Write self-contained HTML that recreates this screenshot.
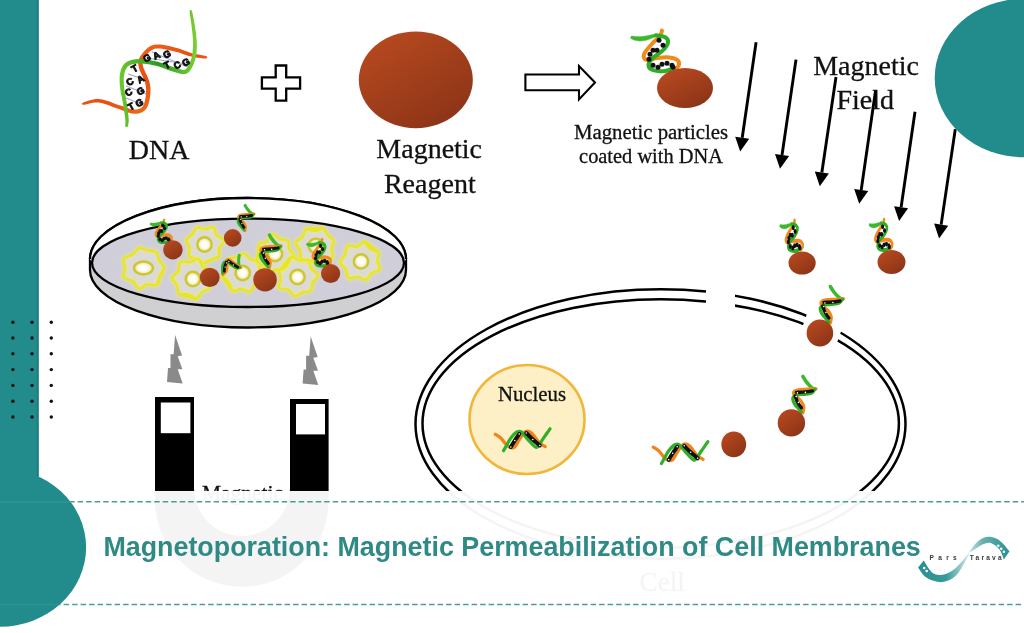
<!DOCTYPE html>
<html><head><meta charset="utf-8">
<style>
html,body{margin:0;padding:0;background:#fff;}
body{width:1024px;height:633px;overflow:hidden;position:relative;}
svg{display:block;position:absolute;left:0;top:0;will-change:transform;}
text{font-family:"Liberation Serif",serif;stroke:#111;stroke-width:0.3px;}
.sans{font-family:"Liberation Sans",sans-serif;}
</style></head><body>
<svg width="1024" height="633" viewBox="0 0 1024 633">
<defs>
<linearGradient id="ball" x1="0.2" y1="0.1" x2="0.8" y2="0.95"><stop offset="0" stop-color="#b4481f"/><stop offset="1" stop-color="#8c3417"/></linearGradient>
<radialGradient id="nuc" cx="0.5" cy="0.5" r="0.5">
<stop offset="0" stop-color="#ffffff"/><stop offset="0.45" stop-color="#fcfcf0"/><stop offset="1" stop-color="#e4e09a"/>
</radialGradient>
<linearGradient id="orgrad" x1="0" y1="0" x2="1" y2="1"><stop offset="0" stop-color="#f07a1a"/><stop offset="0.5" stop-color="#e84e12"/><stop offset="1" stop-color="#f08a1c"/></linearGradient>
<linearGradient id="grgrad" x1="0" y1="0" x2="1" y2="0"><stop offset="0" stop-color="#6cc82c"/><stop offset="0.5" stop-color="#2a9a24"/><stop offset="1" stop-color="#7cd030"/></linearGradient>
<linearGradient id="logoL" x1="918" y1="0" x2="970" y2="0" gradientUnits="userSpaceOnUse"><stop offset="0" stop-color="#279090"/><stop offset="0.55" stop-color="#3a9a9a"/><stop offset="1" stop-color="#d8ecec"/></linearGradient>
<linearGradient id="logoR" x1="968" y1="0" x2="1010" y2="0" gradientUnits="userSpaceOnUse"><stop offset="0" stop-color="#d0e8e8"/><stop offset="0.35" stop-color="#6ab0b0"/><stop offset="1" stop-color="#279090"/></linearGradient>
<filter id="glow" x="-30%" y="-30%" width="160%" height="160%"><feGaussianBlur stdDeviation="1.2"/></filter>
</defs>
<rect x="0" y="0" width="1024" height="633" fill="#fff"/>

<line x1="147" y1="58" x2="186" y2="64" stroke="#a0a8cc" stroke-width="1.1"/><line x1="152" y1="52" x2="190" y2="68" stroke="#a0a8cc" stroke-width="1.1"/><line x1="128" y1="74" x2="146" y2="80" stroke="#a0a8cc" stroke-width="1.1"/><line x1="126" y1="86" x2="147" y2="94" stroke="#a0a8cc" stroke-width="1.1"/><line x1="126" y1="98" x2="146" y2="106" stroke="#a0a8cc" stroke-width="1.1"/><polygon points="82.4,104.7 84.3,104.8 86.8,104.2 89.6,103.4 92.7,102.8 95.8,102.4 98.7,102.4 101.6,102.9 104.8,103.9 108.2,105.1 111.6,106.4 115.0,107.7 118.1,108.8 120.9,109.8 123.7,110.9 126.4,111.9 129.0,112.8 131.6,113.5 134.1,113.8 136.5,113.7 138.7,113.4 140.9,112.7 142.9,111.8 144.7,110.5 146.3,108.8 147.6,106.6 148.5,104.1 149.2,101.3 149.8,98.6 150.1,95.9 150.4,93.5 150.5,91.3 150.5,89.2 150.4,87.2 150.1,85.2 149.7,83.1 149.1,80.9 148.2,78.4 147.1,75.8 145.8,73.2 144.7,70.7 143.7,68.4 143.1,66.5 142.8,64.8 142.6,63.3 142.5,62.1 142.7,61.1 143.1,60.0 143.8,58.6 145.0,56.9 146.5,54.9 148.3,52.9 150.3,51.1 152.5,49.7 154.6,48.8 157.1,48.4 160.1,48.5 163.5,49.0 167.0,49.7 170.5,50.4 173.7,51.2 176.8,51.9 179.8,52.8 182.8,53.9 185.7,54.9 188.7,55.9 191.6,56.6 194.5,57.2 197.6,57.7 200.5,58.1 203.2,58.4 205.4,58.5 207.1,58.2 207.3,56.8 205.8,56.0 203.5,55.6 200.9,55.1 198.1,54.6 195.2,54.0 192.4,53.4 189.7,52.5 186.9,51.5 184.0,50.4 181.0,49.3 177.9,48.3 174.7,47.4 171.3,46.6 167.8,45.8 164.1,45.1 160.5,44.5 156.9,44.4 153.6,44.8 150.5,46.0 147.8,47.8 145.4,49.9 143.3,52.2 141.6,54.4 140.2,56.4 139.2,58.2 138.5,60.0 138.2,61.9 138.2,63.7 138.5,65.5 138.9,67.5 139.6,69.9 140.7,72.5 141.9,75.1 143.1,77.6 144.2,80.0 144.9,82.1 145.4,84.1 145.8,85.9 146.0,87.7 146.1,89.4 146.1,91.2 146.0,93.1 145.8,95.4 145.5,97.9 145.0,100.4 144.4,102.8 143.7,104.8 142.9,106.2 141.9,107.3 140.7,108.2 139.4,108.8 137.8,109.3 136.1,109.6 134.3,109.6 132.3,109.5 130.1,108.9 127.7,108.1 125.1,107.2 122.2,106.1 119.3,105.2 116.2,104.2 112.9,102.9 109.4,101.6 105.9,100.4 102.4,99.5 98.9,99.0 95.5,99.1 92.1,99.7 88.9,100.5 86.0,101.4 83.6,102.3 82.0,103.3" fill="url(#orgrad)" /><polygon points="189.9,10.1 189.7,12.2 190.0,14.9 190.5,18.2 191.0,21.7 191.5,25.1 191.8,28.2 192.2,31.1 192.5,34.0 192.8,36.9 193.0,39.7 193.1,42.4 193.1,45.0 193.0,47.6 192.8,50.1 192.6,52.6 192.2,55.0 191.7,57.2 191.1,59.4 190.3,61.5 189.3,63.7 188.3,65.8 187.2,67.6 186.1,68.9 185.0,69.6 184.1,69.9 182.9,69.9 181.3,69.6 179.4,69.0 177.2,68.2 174.8,67.5 172.3,66.7 169.5,65.7 166.5,64.6 163.3,63.5 160.2,62.4 157.0,61.6 153.9,60.9 150.7,60.3 147.5,59.8 144.4,59.4 141.4,59.1 138.7,59.1 136.1,59.3 133.7,59.6 131.4,60.0 129.2,60.7 127.3,61.6 125.5,62.8 123.9,64.2 122.7,65.9 121.8,67.7 121.0,69.6 120.5,71.6 120.0,73.6 119.7,75.7 119.6,78.0 119.6,80.3 119.7,82.7 119.8,85.1 120.1,87.6 120.4,90.3 120.9,93.1 121.5,95.9 122.1,98.8 122.6,101.6 123.1,104.3 123.6,107.0 124.0,109.8 124.4,112.6 124.8,115.2 125.1,117.6 125.3,119.6 125.4,121.3 125.4,122.8 125.3,124.0 125.3,125.1 125.2,126.1 125.7,126.9 127.1,127.1 127.8,126.5 128.0,125.6 128.3,124.4 128.5,123.0 128.7,121.3 128.7,119.4 128.5,117.2 128.3,114.8 128.0,112.1 127.6,109.3 127.3,106.5 126.9,103.7 126.4,100.9 125.9,98.1 125.4,95.2 124.8,92.4 124.4,89.7 124.1,87.2 123.9,84.8 123.8,82.4 123.7,80.2 123.7,78.1 123.9,76.2 124.2,74.4 124.6,72.6 125.1,71.0 125.7,69.5 126.4,68.2 127.2,67.1 128.1,66.2 129.3,65.5 130.8,64.8 132.5,64.3 134.4,63.9 136.5,63.6 138.7,63.5 141.2,63.5 144.0,63.7 146.9,64.1 150.0,64.6 153.0,65.2 156.0,65.8 158.9,66.6 161.9,67.6 165.0,68.7 168.0,69.9 170.9,70.9 173.6,71.7 175.9,72.4 178.1,73.1 180.2,73.7 182.4,74.1 184.7,74.1 187.0,73.4 188.9,71.9 190.6,70.0 191.9,67.8 193.1,65.4 194.1,63.0 194.9,60.6 195.6,58.2 196.1,55.7 196.5,53.1 196.7,50.4 196.8,47.7 196.9,45.0 196.8,42.2 196.6,39.4 196.3,36.5 196.0,33.6 195.6,30.7 195.2,27.8 194.7,24.6 194.1,21.2 193.4,17.7 192.8,14.5 192.2,11.8 191.3,9.9" fill="url(#grgrad)" /><text transform="translate(147,57.8) rotate(-25)" x="0" y="3.4" font-size="9.5" font-weight="bold" text-anchor="middle" fill="#111" style="font-family:'Liberation Sans',sans-serif;stroke:#111;stroke-width:0.9px">G</text><text transform="translate(156.5,55.4) rotate(-25)" x="0" y="3.4" font-size="9.5" font-weight="bold" text-anchor="middle" fill="#111" style="font-family:'Liberation Sans',sans-serif;stroke:#111;stroke-width:0.9px">A</text><text transform="translate(167,54.2) rotate(-25)" x="0" y="3.4" font-size="9.5" font-weight="bold" text-anchor="middle" fill="#111" style="font-family:'Liberation Sans',sans-serif;stroke:#111;stroke-width:0.9px">G</text><text transform="translate(167,64.9) rotate(-25)" x="0" y="3.4" font-size="9.5" font-weight="bold" text-anchor="middle" fill="#111" style="font-family:'Liberation Sans',sans-serif;stroke:#111;stroke-width:0.9px">T</text><text transform="translate(177.2,64.9) rotate(-25)" x="0" y="3.4" font-size="9.5" font-weight="bold" text-anchor="middle" fill="#111" style="font-family:'Liberation Sans',sans-serif;stroke:#111;stroke-width:0.9px">C</text><text transform="translate(186,62) rotate(-25)" x="0" y="3.4" font-size="9.5" font-weight="bold" text-anchor="middle" fill="#111" style="font-family:'Liberation Sans',sans-serif;stroke:#111;stroke-width:0.9px">G</text><text transform="translate(134.5,68.4) rotate(-30)" x="0" y="3.4" font-size="9.5" font-weight="bold" text-anchor="middle" fill="#111" style="font-family:'Liberation Sans',sans-serif;stroke:#111;stroke-width:0.9px">T</text><text transform="translate(140.5,79) rotate(-30)" x="0" y="3.4" font-size="9.5" font-weight="bold" text-anchor="middle" fill="#111" style="font-family:'Liberation Sans',sans-serif;stroke:#111;stroke-width:0.9px">A</text><text transform="translate(129.8,81.5) rotate(-30)" x="0" y="3.4" font-size="9.5" font-weight="bold" text-anchor="middle" fill="#111" style="font-family:'Liberation Sans',sans-serif;stroke:#111;stroke-width:0.9px">C</text><text transform="translate(140.5,91) rotate(-30)" x="0" y="3.4" font-size="9.5" font-weight="bold" text-anchor="middle" fill="#111" style="font-family:'Liberation Sans',sans-serif;stroke:#111;stroke-width:0.9px">G</text><text transform="translate(128.6,92.1) rotate(-30)" x="0" y="3.4" font-size="9.5" font-weight="bold" text-anchor="middle" fill="#111" style="font-family:'Liberation Sans',sans-serif;stroke:#111;stroke-width:0.9px">C</text><text transform="translate(139.3,102.8) rotate(-30)" x="0" y="3.4" font-size="9.5" font-weight="bold" text-anchor="middle" fill="#111" style="font-family:'Liberation Sans',sans-serif;stroke:#111;stroke-width:0.9px">G</text><text transform="translate(131,106.4) rotate(-30)" x="0" y="3.4" font-size="9.5" font-weight="bold" text-anchor="middle" fill="#111" style="font-family:'Liberation Sans',sans-serif;stroke:#111;stroke-width:0.9px">T</text>
<path d="M275.7,65.5 H286.2 V77.4 H300.1 V88.7 H286.2 V100.7 H275.7 V88.7 H261.9 V77.4 H275.7 Z" fill="#fff" stroke="#000" stroke-width="2.3"/>
<ellipse cx="415.8" cy="79.8" rx="57" ry="48.4" fill="url(#ball)"/>
<text x="159.1" y="159.4" font-size="28" text-anchor="middle" fill="#111">DNA</text>
<text x="429.2" y="158.1" font-size="28" text-anchor="middle" fill="#111">Magnetic</text>
<text x="429.8" y="192.7" font-size="28" text-anchor="middle" fill="#111">Reagent</text>
<text x="651" y="138.8" font-size="20.8" text-anchor="middle" fill="#111">Magnetic particles</text>
<text x="651" y="162.8" font-size="20.4" text-anchor="middle" fill="#111">coated with DNA</text>
<text x="866" y="74.9" font-size="28" text-anchor="middle" fill="#111">Magnetic</text>
<text x="865.3" y="108.9" font-size="28" text-anchor="middle" fill="#111">Field</text>
<path d="M525.4,74.5 H579 V66 L595,82.4 L579,99.4 V90.2 H525.4 Z" fill="#fff" stroke="#000" stroke-width="2.1" stroke-linejoin="miter"/>
<g transform="translate(685,87.2) rotate(0) scale(1.0,1.0)"><polygon points="-54.3,-48.8 -50.3,-47.0 -45.0,-46.1 -39.6,-46.7 -34.5,-48.5 -28.7,-50.8 -29.5,-53.2 -35.5,-51.9 -40.4,-50.9 -45.0,-50.5 -49.7,-50.6 -53.7,-51.2" fill="#3cb82c" stroke="#3cb82c" stroke-width="0.5" stroke-linejoin="round"/><path d="M-23.0,-56.6 C-23.3,-55.7 -23.3,-53.5 -25.0,-51.3 C-26.7,-49.1 -30.6,-45.9 -33.1,-43.2 C-35.6,-40.5 -38.4,-37.3 -39.8,-35.1 C-41.1,-32.9 -41.6,-31.1 -41.2,-29.8 C-40.8,-28.5 -39.4,-27.2 -37.2,-27.1 C-35.0,-27.0 -31.4,-28.7 -27.8,-29.1 C-24.2,-29.6 -19.1,-30.1 -15.7,-29.8 C-12.3,-29.5 -9.2,-28.5 -7.6,-27.1 C-6.0,-25.8 -5.8,-23.3 -6.3,-21.7 C-6.8,-20.1 -9.6,-18.4 -10.3,-17.7" stroke="#f08a1a" stroke-width="4.00" fill="none" stroke-linecap="round"/><path d="M-29.1,-51.9 C-27.5,-51.6 -21.7,-51.1 -19.7,-49.9 C-17.7,-48.7 -16.6,-46.7 -17.0,-44.5 C-17.4,-42.3 -19.7,-39.2 -22.4,-36.5 C-25.1,-33.8 -30.8,-30.9 -33.1,-28.4 C-35.5,-25.9 -36.7,-23.6 -36.5,-21.7 C-36.3,-19.8 -34.6,-17.9 -31.8,-17.0 C-29.0,-16.1 -23.1,-16.0 -19.7,-16.3 C-16.3,-16.6 -12.9,-18.6 -11.6,-19.0" stroke="#2eae26" stroke-width="4.00" fill="none" stroke-linecap="round"/><circle cx="-26" cy="-47" r="2.50" fill="#111"/><circle cx="-22" cy="-42" r="2.50" fill="#111"/><circle cx="-28" cy="-37" r="2.50" fill="#111"/><circle cx="-32" cy="-37" r="2.50" fill="#111"/><circle cx="-35" cy="-33" r="2.50" fill="#111"/><circle cx="-36" cy="-28" r="2.50" fill="#111"/><circle cx="-32" cy="-22" r="2.50" fill="#111"/><circle cx="-27" cy="-20" r="2.50" fill="#111"/><circle cx="-23" cy="-23" r="2.50" fill="#111"/><circle cx="-18" cy="-24" r="2.50" fill="#111"/><circle cx="-13" cy="-22" r="2.50" fill="#111"/><circle cx="-12" cy="-20" r="2.50" fill="#111"/></g>
<ellipse cx="685" cy="88" rx="28" ry="20" fill="url(#ball)"/>
<line x1="756.1" y1="42.2" x2="742.213579436398" y2="137.7455603558529" stroke="#000" stroke-width="2.9"/><polygon points="740.2,151.6 735.2,136.7 749.2,138.8" fill="#000"/><line x1="796" y1="59.6" x2="782.0296117311876" y2="154.94789993464437" stroke="#000" stroke-width="2.9"/><polygon points="780,168.8 775.0,153.9 789.1,156.0" fill="#000"/><line x1="836" y1="77" x2="821.8525996398417" y2="172.45128761514192" stroke="#000" stroke-width="2.9"/><polygon points="819.8,186.3 814.8,171.4 828.9,173.5" fill="#000"/><line x1="875.5" y1="91" x2="861.2022528542904" y2="189.94391889791757" stroke="#000" stroke-width="2.9"/><polygon points="859.2,203.8 854.2,188.9 868.2,191.0" fill="#000"/><line x1="915" y1="111.7" x2="901.113579436398" y2="207.2455603558529" stroke="#000" stroke-width="2.9"/><polygon points="899.1,221.1 894.1,206.2 908.1,208.3" fill="#000"/><line x1="955.3" y1="129.1" x2="941.1507636831058" y2="224.65101562149576" stroke="#000" stroke-width="2.9"/><polygon points="939.1,238.5 934.1,223.6 948.2,225.7" fill="#000"/>
<g transform="translate(805.7,263) rotate(0) scale(0.48,0.75)"><polygon points="-54.5,-48.5 -50.4,-46.5 -45.0,-45.5 -39.5,-46.1 -34.3,-47.9 -28.6,-50.5 -29.6,-53.5 -35.7,-52.5 -40.5,-51.5 -45.0,-51.1 -49.6,-51.1 -53.5,-51.5" fill="#3cb82c" stroke="#3cb82c" stroke-width="0.5" stroke-linejoin="round"/><path d="M-23.0,-56.6 C-23.3,-55.7 -23.3,-53.5 -25.0,-51.3 C-26.7,-49.1 -30.6,-45.9 -33.1,-43.2 C-35.6,-40.5 -38.4,-37.3 -39.8,-35.1 C-41.1,-32.9 -41.6,-31.1 -41.2,-29.8 C-40.8,-28.5 -39.4,-27.2 -37.2,-27.1 C-35.0,-27.0 -31.4,-28.7 -27.8,-29.1 C-24.2,-29.6 -19.1,-30.1 -15.7,-29.8 C-12.3,-29.5 -9.2,-28.5 -7.6,-27.1 C-6.0,-25.8 -5.8,-23.3 -6.3,-21.7 C-6.8,-20.1 -9.6,-18.4 -10.3,-17.7" stroke="#f08a1a" stroke-width="5.16" fill="none" stroke-linecap="round"/><path d="M-29.1,-51.9 C-27.5,-51.6 -21.7,-51.1 -19.7,-49.9 C-17.7,-48.7 -16.6,-46.7 -17.0,-44.5 C-17.4,-42.3 -19.7,-39.2 -22.4,-36.5 C-25.1,-33.8 -30.8,-30.9 -33.1,-28.4 C-35.5,-25.9 -36.7,-23.6 -36.5,-21.7 C-36.3,-19.8 -34.6,-17.9 -31.8,-17.0 C-29.0,-16.1 -23.1,-16.0 -19.7,-16.3 C-16.3,-16.6 -12.9,-18.6 -11.6,-19.0" stroke="#2eae26" stroke-width="5.16" fill="none" stroke-linecap="round"/><circle cx="-26" cy="-47" r="3.23" fill="#111"/><circle cx="-22" cy="-42" r="3.23" fill="#111"/><circle cx="-28" cy="-37" r="3.23" fill="#111"/><circle cx="-32" cy="-37" r="3.23" fill="#111"/><circle cx="-35" cy="-33" r="3.23" fill="#111"/><circle cx="-36" cy="-28" r="3.23" fill="#111"/><circle cx="-32" cy="-22" r="3.23" fill="#111"/><circle cx="-27" cy="-20" r="3.23" fill="#111"/><circle cx="-23" cy="-23" r="3.23" fill="#111"/><circle cx="-18" cy="-24" r="3.23" fill="#111"/><circle cx="-13" cy="-22" r="3.23" fill="#111"/><circle cx="-12" cy="-20" r="3.23" fill="#111"/></g>
<ellipse cx="802.1" cy="263" rx="13.6" ry="11.6" fill="url(#ball)"/>
<g transform="translate(895.1,262.1) rotate(0) scale(0.48,0.75)"><polygon points="-54.5,-48.5 -50.4,-46.5 -45.0,-45.5 -39.5,-46.1 -34.3,-47.9 -28.6,-50.5 -29.6,-53.5 -35.7,-52.5 -40.5,-51.5 -45.0,-51.1 -49.6,-51.1 -53.5,-51.5" fill="#3cb82c" stroke="#3cb82c" stroke-width="0.5" stroke-linejoin="round"/><path d="M-23.0,-56.6 C-23.3,-55.7 -23.3,-53.5 -25.0,-51.3 C-26.7,-49.1 -30.6,-45.9 -33.1,-43.2 C-35.6,-40.5 -38.4,-37.3 -39.8,-35.1 C-41.1,-32.9 -41.6,-31.1 -41.2,-29.8 C-40.8,-28.5 -39.4,-27.2 -37.2,-27.1 C-35.0,-27.0 -31.4,-28.7 -27.8,-29.1 C-24.2,-29.6 -19.1,-30.1 -15.7,-29.8 C-12.3,-29.5 -9.2,-28.5 -7.6,-27.1 C-6.0,-25.8 -5.8,-23.3 -6.3,-21.7 C-6.8,-20.1 -9.6,-18.4 -10.3,-17.7" stroke="#f08a1a" stroke-width="5.16" fill="none" stroke-linecap="round"/><path d="M-29.1,-51.9 C-27.5,-51.6 -21.7,-51.1 -19.7,-49.9 C-17.7,-48.7 -16.6,-46.7 -17.0,-44.5 C-17.4,-42.3 -19.7,-39.2 -22.4,-36.5 C-25.1,-33.8 -30.8,-30.9 -33.1,-28.4 C-35.5,-25.9 -36.7,-23.6 -36.5,-21.7 C-36.3,-19.8 -34.6,-17.9 -31.8,-17.0 C-29.0,-16.1 -23.1,-16.0 -19.7,-16.3 C-16.3,-16.6 -12.9,-18.6 -11.6,-19.0" stroke="#2eae26" stroke-width="5.16" fill="none" stroke-linecap="round"/><circle cx="-26" cy="-47" r="3.23" fill="#111"/><circle cx="-22" cy="-42" r="3.23" fill="#111"/><circle cx="-28" cy="-37" r="3.23" fill="#111"/><circle cx="-32" cy="-37" r="3.23" fill="#111"/><circle cx="-35" cy="-33" r="3.23" fill="#111"/><circle cx="-36" cy="-28" r="3.23" fill="#111"/><circle cx="-32" cy="-22" r="3.23" fill="#111"/><circle cx="-27" cy="-20" r="3.23" fill="#111"/><circle cx="-23" cy="-23" r="3.23" fill="#111"/><circle cx="-18" cy="-24" r="3.23" fill="#111"/><circle cx="-13" cy="-22" r="3.23" fill="#111"/><circle cx="-12" cy="-20" r="3.23" fill="#111"/></g>
<ellipse cx="891.5" cy="262.1" rx="14" ry="12" fill="url(#ball)"/>
<path d="M90,259 A158,61 0 0 1 406,259 V270 A158,57.5 0 0 1 90,270 Z" fill="#d0d0d2" stroke="#000" stroke-width="2.3"/><path d="M90,259 A158,61 0 0 1 406,259 L404,262.8 A156,44.2 0 0 0 92,262.8 Z" fill="#fff"/><path d="M90,259 A158,61 0 0 1 406,259" fill="none" stroke="#000" stroke-width="2.3"/><ellipse cx="248" cy="262.8" rx="156" ry="44.2" fill="#d0cfd9" stroke="#000" stroke-width="2.3"/>
<path d="M164.4,268.0 C163.6,269.3 161.1,273.0 159.8,275.9 C158.6,278.7 159.1,283.5 157.0,284.9 C154.9,286.4 150.3,283.8 147.2,284.4 C144.2,285.1 141.1,289.2 138.8,288.7 C136.4,288.1 135.5,283.0 133.0,281.1 C130.5,279.3 125.2,279.7 123.8,277.5 C122.5,275.3 125.0,271.2 125.0,268.0 C125.0,264.8 122.5,260.8 123.8,258.5 C125.1,256.2 130.2,256.2 132.7,254.5 C135.2,252.7 136.5,248.8 139.0,248.1 C141.4,247.4 144.7,249.7 147.5,250.3 C150.4,251.0 154.2,250.5 156.1,252.1 C158.1,253.8 157.7,257.8 159.1,260.5 C160.5,263.1 164.2,265.4 164.4,268.0 C164.5,270.6 161.1,273.0 159.8,275.9 C158.6,278.7 157.5,283.4 157.0,284.9Z" fill="#e4e4d8" fill-opacity="0.55" stroke="#f0ec50" stroke-opacity="0.55" stroke-width="5" stroke-linejoin="round" filter="url(#glow)"/><path d="M164.4,268.0 C163.6,269.3 161.1,273.0 159.8,275.9 C158.6,278.7 159.1,283.5 157.0,284.9 C154.9,286.4 150.3,283.8 147.2,284.4 C144.2,285.1 141.1,289.2 138.8,288.7 C136.4,288.1 135.5,283.0 133.0,281.1 C130.5,279.3 125.2,279.7 123.8,277.5 C122.5,275.3 125.0,271.2 125.0,268.0 C125.0,264.8 122.5,260.8 123.8,258.5 C125.1,256.2 130.2,256.2 132.7,254.5 C135.2,252.7 136.5,248.8 139.0,248.1 C141.4,247.4 144.7,249.7 147.5,250.3 C150.4,251.0 154.2,250.5 156.1,252.1 C158.1,253.8 157.7,257.8 159.1,260.5 C160.5,263.1 164.2,265.4 164.4,268.0 C164.5,270.6 161.1,273.0 159.8,275.9 C158.6,278.7 157.5,283.4 157.0,284.9Z" fill="none" stroke="#e8e622" stroke-width="2.3" stroke-linejoin="round"/><ellipse cx="143.5" cy="268" rx="9.5" ry="6.5" fill="url(#nuc)" stroke="#cfc62c" stroke-width="2.4"/><path d="M219.0,256.7 C217.7,257.2 213.7,258.4 211.2,259.5 C208.7,260.5 206.4,263.2 204.0,263.1 C201.6,263.1 199.5,260.2 197.0,259.0 C194.5,257.9 190.3,258.1 189.1,256.2 C187.8,254.2 190.0,250.2 189.6,247.5 C189.1,244.8 185.8,242.0 186.3,239.8 C186.8,237.6 190.6,236.3 192.4,234.3 C194.1,232.2 194.8,228.4 196.9,227.6 C199.0,226.7 202.2,229.2 204.9,229.2 C207.7,229.1 211.4,226.2 213.4,227.3 C215.3,228.3 214.7,233.2 216.6,235.4 C218.5,237.6 224.3,238.3 224.7,240.5 C225.1,242.6 220.0,245.5 219.0,248.2 C218.1,250.9 220.3,254.8 219.0,256.7 C217.7,258.6 213.7,258.4 211.2,259.5 C208.7,260.5 205.2,262.5 204.0,263.1Z" fill="#e4e4d8" fill-opacity="0.55" stroke="#f0ec50" stroke-opacity="0.55" stroke-width="5" stroke-linejoin="round" filter="url(#glow)"/><path d="M219.0,256.7 C217.7,257.2 213.7,258.4 211.2,259.5 C208.7,260.5 206.4,263.2 204.0,263.1 C201.6,263.1 199.5,260.2 197.0,259.0 C194.5,257.9 190.3,258.1 189.1,256.2 C187.8,254.2 190.0,250.2 189.6,247.5 C189.1,244.8 185.8,242.0 186.3,239.8 C186.8,237.6 190.6,236.3 192.4,234.3 C194.1,232.2 194.8,228.4 196.9,227.6 C199.0,226.7 202.2,229.2 204.9,229.2 C207.7,229.1 211.4,226.2 213.4,227.3 C215.3,228.3 214.7,233.2 216.6,235.4 C218.5,237.6 224.3,238.3 224.7,240.5 C225.1,242.6 220.0,245.5 219.0,248.2 C218.1,250.9 220.3,254.8 219.0,256.7 C217.7,258.6 213.7,258.4 211.2,259.5 C208.7,260.5 205.2,262.5 204.0,263.1Z" fill="none" stroke="#e8e622" stroke-width="2.3" stroke-linejoin="round"/><ellipse cx="204.5" cy="244.5" rx="7.2" ry="7.2" fill="url(#nuc)" stroke="#cfc62c" stroke-width="2.4"/><path d="M196.4,299.1 C195.1,298.3 191.3,295.3 188.5,294.5 C185.6,293.7 181.0,295.9 179.2,294.5 C177.3,293.0 178.3,288.3 177.1,285.6 C175.9,282.8 171.9,280.3 172.1,277.9 C172.3,275.5 177.0,273.7 178.4,271.1 C179.9,268.4 178.7,263.2 180.6,261.8 C182.5,260.3 187.0,262.7 190.0,262.2 C193.0,261.8 196.4,258.2 198.6,259.1 C200.8,260.0 200.8,265.5 203.1,267.5 C205.4,269.4 211.4,268.8 212.4,270.9 C213.4,272.9 209.5,277.0 209.0,279.9 C208.5,282.7 210.7,286.1 209.5,288.1 C208.3,290.1 204.2,289.9 202.0,291.8 C199.8,293.6 198.6,298.6 196.4,299.1 C194.1,299.6 191.3,295.3 188.5,294.5 C185.6,293.7 180.7,294.5 179.2,294.5Z" fill="#e4e4d8" fill-opacity="0.55" stroke="#f0ec50" stroke-opacity="0.55" stroke-width="5" stroke-linejoin="round" filter="url(#glow)"/><path d="M196.4,299.1 C195.1,298.3 191.3,295.3 188.5,294.5 C185.6,293.7 181.0,295.9 179.2,294.5 C177.3,293.0 178.3,288.3 177.1,285.6 C175.9,282.8 171.9,280.3 172.1,277.9 C172.3,275.5 177.0,273.7 178.4,271.1 C179.9,268.4 178.7,263.2 180.6,261.8 C182.5,260.3 187.0,262.7 190.0,262.2 C193.0,261.8 196.4,258.2 198.6,259.1 C200.8,260.0 200.8,265.5 203.1,267.5 C205.4,269.4 211.4,268.8 212.4,270.9 C213.4,272.9 209.5,277.0 209.0,279.9 C208.5,282.7 210.7,286.1 209.5,288.1 C208.3,290.1 204.2,289.9 202.0,291.8 C199.8,293.6 198.6,298.6 196.4,299.1 C194.1,299.6 191.3,295.3 188.5,294.5 C185.6,293.7 180.7,294.5 179.2,294.5Z" fill="none" stroke="#e8e622" stroke-width="2.3" stroke-linejoin="round"/><ellipse cx="192.9" cy="279" rx="7.2" ry="7.2" fill="url(#nuc)" stroke="#cfc62c" stroke-width="2.4"/><path d="M232.2,291.0 C231.6,289.5 230.5,284.8 228.8,282.3 C227.1,279.9 222.3,278.4 222.0,276.0 C221.8,273.6 226.5,271.0 227.5,268.2 C228.5,265.4 226.5,261.1 228.1,259.3 C229.6,257.5 234.0,258.3 236.7,257.4 C239.4,256.4 241.9,253.2 244.3,253.6 C246.6,253.9 248.3,257.9 250.6,259.4 C253.0,260.9 256.9,260.6 258.3,262.5 C259.8,264.3 258.7,267.8 259.3,270.6 C260.0,273.4 263.0,276.8 262.2,279.1 C261.5,281.5 256.9,282.3 254.9,284.4 C252.8,286.5 252.1,290.9 249.9,291.7 C247.7,292.4 244.4,289.1 241.4,289.0 C238.5,288.8 234.3,292.1 232.2,291.0 C230.1,289.9 230.5,284.8 228.8,282.3 C227.1,279.9 223.2,277.1 222.0,276.0Z" fill="#e4e4d8" fill-opacity="0.55" stroke="#f0ec50" stroke-opacity="0.55" stroke-width="5" stroke-linejoin="round" filter="url(#glow)"/><path d="M232.2,291.0 C231.6,289.5 230.5,284.8 228.8,282.3 C227.1,279.9 222.3,278.4 222.0,276.0 C221.8,273.6 226.5,271.0 227.5,268.2 C228.5,265.4 226.5,261.1 228.1,259.3 C229.6,257.5 234.0,258.3 236.7,257.4 C239.4,256.4 241.9,253.2 244.3,253.6 C246.6,253.9 248.3,257.9 250.6,259.4 C253.0,260.9 256.9,260.6 258.3,262.5 C259.8,264.3 258.7,267.8 259.3,270.6 C260.0,273.4 263.0,276.8 262.2,279.1 C261.5,281.5 256.9,282.3 254.9,284.4 C252.8,286.5 252.1,290.9 249.9,291.7 C247.7,292.4 244.4,289.1 241.4,289.0 C238.5,288.8 234.3,292.1 232.2,291.0 C230.1,289.9 230.5,284.8 228.8,282.3 C227.1,279.9 223.2,277.1 222.0,276.0Z" fill="none" stroke="#e8e622" stroke-width="2.3" stroke-linejoin="round"/><ellipse cx="242.7" cy="273" rx="7.2" ry="7.2" fill="url(#nuc)" stroke="#cfc62c" stroke-width="2.4"/><path d="M256.9,260.4 C257.3,259.1 258.9,255.0 259.3,252.3 C259.6,249.6 257.8,245.9 259.1,244.1 C260.4,242.3 264.8,243.1 267.0,241.4 C269.3,239.8 270.5,234.6 272.7,234.2 C274.8,233.8 277.5,238.1 280.1,239.2 C282.7,240.3 286.6,239.2 288.1,240.8 C289.6,242.4 288.0,246.4 289.1,249.0 C290.2,251.5 294.8,254.0 294.6,256.1 C294.3,258.3 289.3,259.5 287.7,261.9 C286.2,264.3 287.2,269.0 285.3,270.3 C283.5,271.5 279.6,269.3 276.8,269.5 C274.1,269.8 271.2,272.2 269.0,271.5 C266.7,270.9 265.4,267.5 263.4,265.7 C261.4,263.8 257.6,262.7 256.9,260.4 C256.2,258.2 258.9,255.0 259.3,252.3 C259.6,249.6 259.1,245.5 259.1,244.1Z" fill="#e4e4d8" fill-opacity="0.55" stroke="#f0ec50" stroke-opacity="0.55" stroke-width="5" stroke-linejoin="round" filter="url(#glow)"/><path d="M256.9,260.4 C257.3,259.1 258.9,255.0 259.3,252.3 C259.6,249.6 257.8,245.9 259.1,244.1 C260.4,242.3 264.8,243.1 267.0,241.4 C269.3,239.8 270.5,234.6 272.7,234.2 C274.8,233.8 277.5,238.1 280.1,239.2 C282.7,240.3 286.6,239.2 288.1,240.8 C289.6,242.4 288.0,246.4 289.1,249.0 C290.2,251.5 294.8,254.0 294.6,256.1 C294.3,258.3 289.3,259.5 287.7,261.9 C286.2,264.3 287.2,269.0 285.3,270.3 C283.5,271.5 279.6,269.3 276.8,269.5 C274.1,269.8 271.2,272.2 269.0,271.5 C266.7,270.9 265.4,267.5 263.4,265.7 C261.4,263.8 257.6,262.7 256.9,260.4 C256.2,258.2 258.9,255.0 259.3,252.3 C259.6,249.6 259.1,245.5 259.1,244.1Z" fill="none" stroke="#e8e622" stroke-width="2.3" stroke-linejoin="round"/><ellipse cx="275" cy="254" rx="7.2" ry="7.2" fill="url(#nuc)" stroke="#cfc62c" stroke-width="2.4"/><path d="M279.3,270.2 C280.5,269.4 284.8,268.0 286.7,265.7 C288.6,263.5 288.8,257.7 290.9,256.8 C293.1,256.0 296.8,260.0 299.7,260.7 C302.6,261.4 306.1,259.6 308.1,261.0 C310.0,262.3 309.7,266.4 311.3,268.7 C313.0,271.1 317.8,272.8 318.0,275.1 C318.2,277.5 313.8,280.0 312.6,282.6 C311.4,285.3 312.4,289.2 310.7,290.8 C309.0,292.4 305.1,291.5 302.5,292.4 C299.9,293.3 297.2,296.7 294.9,296.3 C292.6,295.9 291.5,291.4 288.9,290.0 C286.3,288.6 280.6,289.9 279.2,287.9 C277.8,286.0 280.7,281.5 280.7,278.5 C280.7,275.6 278.3,272.3 279.3,270.2 C280.3,268.1 284.8,268.0 286.7,265.7 C288.6,263.5 290.2,258.3 290.9,256.8Z" fill="#e4e4d8" fill-opacity="0.55" stroke="#f0ec50" stroke-opacity="0.55" stroke-width="5" stroke-linejoin="round" filter="url(#glow)"/><path d="M279.3,270.2 C280.5,269.4 284.8,268.0 286.7,265.7 C288.6,263.5 288.8,257.7 290.9,256.8 C293.1,256.0 296.8,260.0 299.7,260.7 C302.6,261.4 306.1,259.6 308.1,261.0 C310.0,262.3 309.7,266.4 311.3,268.7 C313.0,271.1 317.8,272.8 318.0,275.1 C318.2,277.5 313.8,280.0 312.6,282.6 C311.4,285.3 312.4,289.2 310.7,290.8 C309.0,292.4 305.1,291.5 302.5,292.4 C299.9,293.3 297.2,296.7 294.9,296.3 C292.6,295.9 291.5,291.4 288.9,290.0 C286.3,288.6 280.6,289.9 279.2,287.9 C277.8,286.0 280.7,281.5 280.7,278.5 C280.7,275.6 278.3,272.3 279.3,270.2 C280.3,268.1 284.8,268.0 286.7,265.7 C288.6,263.5 290.2,258.3 290.9,256.8Z" fill="none" stroke="#e8e622" stroke-width="2.3" stroke-linejoin="round"/><ellipse cx="297.5" cy="277" rx="7.2" ry="7.2" fill="url(#nuc)" stroke="#cfc62c" stroke-width="2.4"/><path d="M306.1,228.8 C307.6,229.1 311.9,231.0 314.7,230.9 C317.6,230.7 320.8,227.2 323.0,227.9 C325.1,228.6 325.7,233.0 327.5,235.1 C329.3,237.2 333.0,238.3 333.7,240.5 C334.3,242.7 331.7,245.5 331.5,248.4 C331.3,251.2 333.9,255.8 332.5,257.5 C331.1,259.3 325.6,257.7 323.0,258.8 C320.4,259.9 319.1,263.9 316.9,264.2 C314.7,264.4 312.5,261.1 309.9,260.2 C307.2,259.4 302.8,260.6 301.2,259.0 C299.6,257.3 301.1,253.1 300.2,250.4 C299.2,247.7 295.0,244.8 295.4,242.5 C295.9,240.2 301.0,239.1 302.8,236.8 C304.6,234.5 304.1,229.8 306.1,228.8 C308.1,227.8 311.9,231.0 314.7,230.9 C317.6,230.7 321.6,228.4 323.0,227.9Z" fill="#e4e4d8" fill-opacity="0.55" stroke="#f0ec50" stroke-opacity="0.55" stroke-width="5" stroke-linejoin="round" filter="url(#glow)"/><path d="M306.1,228.8 C307.6,229.1 311.9,231.0 314.7,230.9 C317.6,230.7 320.8,227.2 323.0,227.9 C325.1,228.6 325.7,233.0 327.5,235.1 C329.3,237.2 333.0,238.3 333.7,240.5 C334.3,242.7 331.7,245.5 331.5,248.4 C331.3,251.2 333.9,255.8 332.5,257.5 C331.1,259.3 325.6,257.7 323.0,258.8 C320.4,259.9 319.1,263.9 316.9,264.2 C314.7,264.4 312.5,261.1 309.9,260.2 C307.2,259.4 302.8,260.6 301.2,259.0 C299.6,257.3 301.1,253.1 300.2,250.4 C299.2,247.7 295.0,244.8 295.4,242.5 C295.9,240.2 301.0,239.1 302.8,236.8 C304.6,234.5 304.1,229.8 306.1,228.8 C308.1,227.8 311.9,231.0 314.7,230.9 C317.6,230.7 321.6,228.4 323.0,227.9Z" fill="none" stroke="#e8e622" stroke-width="2.3" stroke-linejoin="round"/><ellipse cx="315.7" cy="245.8" rx="7.2" ry="7.2" fill="url(#nuc)" stroke="#cfc62c" stroke-width="2.4"/><path d="M364.8,241.5 C365.7,242.7 367.9,247.2 370.2,248.9 C372.5,250.7 377.4,250.1 378.6,252.1 C379.8,254.1 377.1,257.9 377.2,260.8 C377.4,263.7 380.6,267.4 379.6,269.5 C378.6,271.6 373.6,271.6 371.3,273.4 C369.1,275.2 368.2,279.5 366.0,280.1 C363.8,280.7 361.0,277.1 358.1,276.8 C355.2,276.5 350.6,279.4 348.6,278.2 C346.6,276.9 347.3,272.1 345.9,269.4 C344.4,266.7 340.2,264.6 340.1,262.2 C340.0,259.7 344.0,257.2 345.2,254.5 C346.5,251.8 345.7,247.2 347.7,245.9 C349.6,244.6 354.2,247.4 357.1,246.7 C359.9,245.9 362.6,241.1 364.8,241.5 C367.0,241.9 367.9,247.2 370.2,248.9 C372.5,250.7 377.2,251.6 378.6,252.1Z" fill="#e4e4d8" fill-opacity="0.55" stroke="#f0ec50" stroke-opacity="0.55" stroke-width="5" stroke-linejoin="round" filter="url(#glow)"/><path d="M364.8,241.5 C365.7,242.7 367.9,247.2 370.2,248.9 C372.5,250.7 377.4,250.1 378.6,252.1 C379.8,254.1 377.1,257.9 377.2,260.8 C377.4,263.7 380.6,267.4 379.6,269.5 C378.6,271.6 373.6,271.6 371.3,273.4 C369.1,275.2 368.2,279.5 366.0,280.1 C363.8,280.7 361.0,277.1 358.1,276.8 C355.2,276.5 350.6,279.4 348.6,278.2 C346.6,276.9 347.3,272.1 345.9,269.4 C344.4,266.7 340.2,264.6 340.1,262.2 C340.0,259.7 344.0,257.2 345.2,254.5 C346.5,251.8 345.7,247.2 347.7,245.9 C349.6,244.6 354.2,247.4 357.1,246.7 C359.9,245.9 362.6,241.1 364.8,241.5 C367.0,241.9 367.9,247.2 370.2,248.9 C372.5,250.7 377.2,251.6 378.6,252.1Z" fill="none" stroke="#e8e622" stroke-width="2.3" stroke-linejoin="round"/><ellipse cx="361" cy="261.4" rx="7.2" ry="7.2" fill="url(#nuc)" stroke="#cfc62c" stroke-width="2.4"/>
<g transform="translate(174.4,251.3) rotate(0) scale(0.45,0.55)"><polygon points="-54.5,-48.3 -50.5,-46.3 -45.0,-45.2 -39.4,-45.8 -34.3,-47.7 -28.6,-50.3 -29.6,-53.7 -35.7,-52.7 -40.6,-51.8 -45.0,-51.4 -49.5,-51.3 -53.5,-51.7" fill="#3cb82c" stroke="#3cb82c" stroke-width="0.5" stroke-linejoin="round"/><path d="M-23.0,-56.6 C-23.3,-55.7 -23.3,-53.5 -25.0,-51.3 C-26.7,-49.1 -30.6,-45.9 -33.1,-43.2 C-35.6,-40.5 -38.4,-37.3 -39.8,-35.1 C-41.1,-32.9 -41.6,-31.1 -41.2,-29.8 C-40.8,-28.5 -39.4,-27.2 -37.2,-27.1 C-35.0,-27.0 -31.4,-28.7 -27.8,-29.1 C-24.2,-29.6 -19.1,-30.1 -15.7,-29.8 C-12.3,-29.5 -9.2,-28.5 -7.6,-27.1 C-6.0,-25.8 -5.8,-23.3 -6.3,-21.7 C-6.8,-20.1 -9.6,-18.4 -10.3,-17.7" stroke="#f08a1a" stroke-width="5.67" fill="none" stroke-linecap="round"/><path d="M-29.1,-51.9 C-27.5,-51.6 -21.7,-51.1 -19.7,-49.9 C-17.7,-48.7 -16.6,-46.7 -17.0,-44.5 C-17.4,-42.3 -19.7,-39.2 -22.4,-36.5 C-25.1,-33.8 -30.8,-30.9 -33.1,-28.4 C-35.5,-25.9 -36.7,-23.6 -36.5,-21.7 C-36.3,-19.8 -34.6,-17.9 -31.8,-17.0 C-29.0,-16.1 -23.1,-16.0 -19.7,-16.3 C-16.3,-16.6 -12.9,-18.6 -11.6,-19.0" stroke="#2eae26" stroke-width="5.67" fill="none" stroke-linecap="round"/><circle cx="-26" cy="-47" r="3.54" fill="#111"/><circle cx="-22" cy="-42" r="3.54" fill="#111"/><circle cx="-28" cy="-37" r="3.54" fill="#111"/><circle cx="-32" cy="-37" r="3.54" fill="#111"/><circle cx="-35" cy="-33" r="3.54" fill="#111"/><circle cx="-36" cy="-28" r="3.54" fill="#111"/><circle cx="-32" cy="-22" r="3.54" fill="#111"/><circle cx="-27" cy="-20" r="3.54" fill="#111"/><circle cx="-23" cy="-23" r="3.54" fill="#111"/><circle cx="-18" cy="-24" r="3.54" fill="#111"/><circle cx="-13" cy="-22" r="3.54" fill="#111"/><circle cx="-12" cy="-20" r="3.54" fill="#111"/></g>
<ellipse cx="172.9" cy="249.8" rx="9.8" ry="9.6" fill="url(#ball)"/>
<g transform="translate(237.7,237.9) rotate(0) scale(0.7,0.7)"><path d="M10.5,-46.4 C11.1,-45.5 12.5,-42.9 14.0,-41.0 C15.5,-39.1 17.9,-36.5 19.3,-35.3 C20.7,-34.1 22.1,-34.0 22.6,-33.7" stroke="#3cb82c" stroke-width="4.30" fill="none" stroke-linecap="round"/><path d="M23.7,-34.2 C22.2,-34.1 17.9,-34.0 15.0,-33.8 C12.1,-33.6 8.1,-33.5 6.0,-33.2 C3.9,-32.9 3.0,-32.7 2.2,-32.0 C1.4,-31.3 0.7,-30.0 1.0,-29.0 C1.3,-28.0 2.8,-27.1 4.0,-26.0 C5.2,-24.9 7.0,-24.1 8.2,-22.5 C9.4,-20.9 11.0,-18.6 11.4,-16.5 C11.8,-14.4 10.7,-11.0 10.5,-9.9" stroke="#f08a1a" stroke-width="3.66" fill="none" stroke-linecap="round"/><path d="M22.6,-33.7 C22.1,-33.1 21.1,-30.7 19.3,-29.8 C17.5,-28.9 14.4,-28.8 12.0,-28.5 C9.6,-28.2 6.9,-28.5 5.0,-28.0 C3.1,-27.5 1.1,-26.8 0.5,-25.4 C-0.1,-24.0 0.7,-21.8 1.6,-19.9 C2.5,-18.0 4.8,-15.8 6.0,-14.3 C7.2,-12.8 8.5,-11.6 9.0,-11.0" stroke="#2eae26" stroke-width="3.66" fill="none" stroke-linecap="round"/><path d="M4.0,-30.5 C5.3,-30.6 9.3,-30.8 12.0,-31.0 C14.7,-31.2 18.7,-31.8 20.0,-32.0" stroke="#111" stroke-width="4.09" fill="none" stroke-linecap="round"/><path d="M2.8,-27.0 C3.2,-26.0 4.0,-23.0 5.0,-21.0 C6.0,-19.0 8.3,-16.0 9.0,-15.0" stroke="#111" stroke-width="4.09" fill="none" stroke-linecap="round"/><circle cx="5" cy="-30.0" r="0.96" fill="#fff"/><circle cx="13" cy="-30.5" r="0.96" fill="#fff"/><circle cx="3.8" cy="-26.5" r="0.96" fill="#fff"/><circle cx="6" cy="-20.5" r="0.96" fill="#fff"/></g>
<ellipse cx="232.7" cy="237.9" rx="8.8" ry="8.8" fill="url(#ball)"/>
<g transform="translate(212.7,275.4) rotate(40) scale(0.7,0.7)"><path d="M10.5,-46.4 C11.1,-45.5 12.5,-42.9 14.0,-41.0 C15.5,-39.1 17.9,-36.5 19.3,-35.3 C20.7,-34.1 22.1,-34.0 22.6,-33.7" stroke="#3cb82c" stroke-width="4.30" fill="none" stroke-linecap="round"/><path d="M23.7,-34.2 C22.2,-34.1 17.9,-34.0 15.0,-33.8 C12.1,-33.6 8.1,-33.5 6.0,-33.2 C3.9,-32.9 3.0,-32.7 2.2,-32.0 C1.4,-31.3 0.7,-30.0 1.0,-29.0 C1.3,-28.0 2.8,-27.1 4.0,-26.0 C5.2,-24.9 7.0,-24.1 8.2,-22.5 C9.4,-20.9 11.0,-18.6 11.4,-16.5 C11.8,-14.4 10.7,-11.0 10.5,-9.9" stroke="#f08a1a" stroke-width="3.66" fill="none" stroke-linecap="round"/><path d="M22.6,-33.7 C22.1,-33.1 21.1,-30.7 19.3,-29.8 C17.5,-28.9 14.4,-28.8 12.0,-28.5 C9.6,-28.2 6.9,-28.5 5.0,-28.0 C3.1,-27.5 1.1,-26.8 0.5,-25.4 C-0.1,-24.0 0.7,-21.8 1.6,-19.9 C2.5,-18.0 4.8,-15.8 6.0,-14.3 C7.2,-12.8 8.5,-11.6 9.0,-11.0" stroke="#2eae26" stroke-width="3.66" fill="none" stroke-linecap="round"/><path d="M4.0,-30.5 C5.3,-30.6 9.3,-30.8 12.0,-31.0 C14.7,-31.2 18.7,-31.8 20.0,-32.0" stroke="#111" stroke-width="4.09" fill="none" stroke-linecap="round"/><path d="M2.8,-27.0 C3.2,-26.0 4.0,-23.0 5.0,-21.0 C6.0,-19.0 8.3,-16.0 9.0,-15.0" stroke="#111" stroke-width="4.09" fill="none" stroke-linecap="round"/><circle cx="5" cy="-30.0" r="0.96" fill="#fff"/><circle cx="13" cy="-30.5" r="0.96" fill="#fff"/><circle cx="3.8" cy="-26.5" r="0.96" fill="#fff"/><circle cx="6" cy="-20.5" r="0.96" fill="#fff"/></g>
<ellipse cx="209.7" cy="277.4" rx="9.9" ry="9.6" fill="url(#ball)"/>
<g transform="translate(260,276.8) rotate(0) scale(0.9,0.9)"><path d="M10.5,-46.4 C11.1,-45.5 12.5,-42.9 14.0,-41.0 C15.5,-39.1 17.9,-36.5 19.3,-35.3 C20.7,-34.1 22.1,-34.0 22.6,-33.7" stroke="#3cb82c" stroke-width="3.79" fill="none" stroke-linecap="round"/><path d="M23.7,-34.2 C22.2,-34.1 17.9,-34.0 15.0,-33.8 C12.1,-33.6 8.1,-33.5 6.0,-33.2 C3.9,-32.9 3.0,-32.7 2.2,-32.0 C1.4,-31.3 0.7,-30.0 1.0,-29.0 C1.3,-28.0 2.8,-27.1 4.0,-26.0 C5.2,-24.9 7.0,-24.1 8.2,-22.5 C9.4,-20.9 11.0,-18.6 11.4,-16.5 C11.8,-14.4 10.7,-11.0 10.5,-9.9" stroke="#f08a1a" stroke-width="3.23" fill="none" stroke-linecap="round"/><path d="M22.6,-33.7 C22.1,-33.1 21.1,-30.7 19.3,-29.8 C17.5,-28.9 14.4,-28.8 12.0,-28.5 C9.6,-28.2 6.9,-28.5 5.0,-28.0 C3.1,-27.5 1.1,-26.8 0.5,-25.4 C-0.1,-24.0 0.7,-21.8 1.6,-19.9 C2.5,-18.0 4.8,-15.8 6.0,-14.3 C7.2,-12.8 8.5,-11.6 9.0,-11.0" stroke="#2eae26" stroke-width="3.23" fill="none" stroke-linecap="round"/><path d="M4.0,-30.5 C5.3,-30.6 9.3,-30.8 12.0,-31.0 C14.7,-31.2 18.7,-31.8 20.0,-32.0" stroke="#111" stroke-width="3.60" fill="none" stroke-linecap="round"/><path d="M2.8,-27.0 C3.2,-26.0 4.0,-23.0 5.0,-21.0 C6.0,-19.0 8.3,-16.0 9.0,-15.0" stroke="#111" stroke-width="3.60" fill="none" stroke-linecap="round"/><circle cx="5" cy="-30.0" r="0.84" fill="#fff"/><circle cx="13" cy="-30.5" r="0.84" fill="#fff"/><circle cx="3.8" cy="-26.5" r="0.84" fill="#fff"/><circle cx="6" cy="-20.5" r="0.84" fill="#fff"/></g>
<ellipse cx="265" cy="279.8" rx="11.8" ry="11.6" fill="url(#ball)"/>
<g transform="translate(333.6,276.5) rotate(0) scale(0.5,0.65)"><polygon points="-54.5,-48.5 -50.4,-46.4 -45.0,-45.4 -39.5,-46.0 -34.3,-47.9 -28.6,-50.5 -29.6,-53.5 -35.7,-52.5 -40.5,-51.6 -45.0,-51.2 -49.6,-51.2 -53.5,-51.5" fill="#3cb82c" stroke="#3cb82c" stroke-width="0.5" stroke-linejoin="round"/><path d="M-23.0,-56.6 C-23.3,-55.7 -23.3,-53.5 -25.0,-51.3 C-26.7,-49.1 -30.6,-45.9 -33.1,-43.2 C-35.6,-40.5 -38.4,-37.3 -39.8,-35.1 C-41.1,-32.9 -41.6,-31.1 -41.2,-29.8 C-40.8,-28.5 -39.4,-27.2 -37.2,-27.1 C-35.0,-27.0 -31.4,-28.7 -27.8,-29.1 C-24.2,-29.6 -19.1,-30.1 -15.7,-29.8 C-12.3,-29.5 -9.2,-28.5 -7.6,-27.1 C-6.0,-25.8 -5.8,-23.3 -6.3,-21.7 C-6.8,-20.1 -9.6,-18.4 -10.3,-17.7" stroke="#f08a1a" stroke-width="5.30" fill="none" stroke-linecap="round"/><path d="M-29.1,-51.9 C-27.5,-51.6 -21.7,-51.1 -19.7,-49.9 C-17.7,-48.7 -16.6,-46.7 -17.0,-44.5 C-17.4,-42.3 -19.7,-39.2 -22.4,-36.5 C-25.1,-33.8 -30.8,-30.9 -33.1,-28.4 C-35.5,-25.9 -36.7,-23.6 -36.5,-21.7 C-36.3,-19.8 -34.6,-17.9 -31.8,-17.0 C-29.0,-16.1 -23.1,-16.0 -19.7,-16.3 C-16.3,-16.6 -12.9,-18.6 -11.6,-19.0" stroke="#2eae26" stroke-width="5.30" fill="none" stroke-linecap="round"/><circle cx="-26" cy="-47" r="3.31" fill="#111"/><circle cx="-22" cy="-42" r="3.31" fill="#111"/><circle cx="-28" cy="-37" r="3.31" fill="#111"/><circle cx="-32" cy="-37" r="3.31" fill="#111"/><circle cx="-35" cy="-33" r="3.31" fill="#111"/><circle cx="-36" cy="-28" r="3.31" fill="#111"/><circle cx="-32" cy="-22" r="3.31" fill="#111"/><circle cx="-27" cy="-20" r="3.31" fill="#111"/><circle cx="-23" cy="-23" r="3.31" fill="#111"/><circle cx="-18" cy="-24" r="3.31" fill="#111"/><circle cx="-13" cy="-22" r="3.31" fill="#111"/><circle cx="-12" cy="-20" r="3.31" fill="#111"/></g>
<ellipse cx="330.6" cy="273.5" rx="9.6" ry="9.6" fill="url(#ball)"/>
<path d="M155,397 H194 V488 A48,48 0 0 0 290,488 V399 H328.6 V500 A86.8,86.8 0 0 1 155,500 Z" fill="#000"/><rect x="160.8" y="402.5" width="29.6" height="30.7" fill="#fff"/><rect x="296" y="404" width="29" height="30.4" fill="#fff"/><text x="242.5" y="500.2" font-size="21.5" text-anchor="middle" fill="#111">Magnetic</text>
<polygon points="175.1,335.0 182.1,355.4 177.7,356.2 182.4,369.2 177.7,369.2 182.7,383.6 167.0,382.0 168.0,367.9 170.5,368.1 170.5,354.3 173.6,354.3" fill="#8a8a8a"/>
<polygon points="310.7,336.5 317.7,356.9 313.3,357.7 318.0,370.7 313.3,370.7 318.3,385.1 302.6,383.5 303.6,369.4 306.1,369.6 306.1,355.8 309.2,355.8" fill="#8a8a8a"/>
<clipPath id="gapclip"><path d="M0,0 H1024 V633 H0 Z M706,280 H735 V320 H706 Z M809,308 L843,326 L835,348 L801,331 Z" clip-rule="evenodd"/></clipPath><g clip-path="url(#gapclip)"><ellipse cx="660.5" cy="424" rx="245" ry="134.7" fill="none" stroke="#000" stroke-width="2.5"/><ellipse cx="660.7" cy="423.5" rx="238.2" ry="124.3" fill="none" stroke="#000" stroke-width="2.5"/></g><text x="662.2" y="590.8" font-size="27.3" text-anchor="middle" fill="#111">Cell</text>
<ellipse cx="527" cy="419.5" rx="57.5" ry="54.5" fill="#fdf0c6" stroke="#f2b63a" stroke-width="2.6"/>
<text x="532" y="400.8" font-size="20.8" text-anchor="middle" fill="#111">Nucleus</text>
<g transform="translate(495.8,440)"><path d="M-0.5,-5.7 C0.4,-5.1 3.2,-3.6 5.0,-2.0 C6.8,-0.4 8.5,2.5 10.0,4.0 C11.5,5.5 12.6,6.8 14.0,7.3 C15.4,7.8 17.0,8.6 18.6,7.3 C20.2,6.0 21.6,2.4 23.4,-0.2 C25.2,-2.8 27.6,-7.2 29.6,-8.4 C31.7,-9.6 33.4,-8.9 35.7,-7.1 C38.0,-5.3 41.0,0.2 43.3,2.5 C45.6,4.8 48.4,5.9 49.4,6.6" stroke="#f08418" stroke-width="3.2" fill="none" stroke-linecap="round"/><path d="M7.7,10.7 C8.2,9.8 9.8,7.2 11.0,5.0 C12.2,2.8 13.6,-0.2 15.2,-2.3 C16.8,-4.4 19.0,-6.8 20.7,-7.8 C22.4,-8.8 23.6,-9.4 25.5,-8.1 C27.4,-6.8 30.0,-2.6 32.3,-0.2 C34.6,2.2 37.5,5.5 39.1,6.6 C40.7,7.7 40.4,8.0 41.9,6.5 C43.4,5.0 46.0,0.6 48.0,-2.3 C50.0,-5.2 53.2,-9.7 54.2,-11.2" stroke="#30b028" stroke-width="3.2" fill="none" stroke-linecap="round"/><path d="M15.0,7.0 C15.7,5.9 17.6,2.7 19.0,0.5 C20.4,-1.7 22.8,-4.9 23.5,-6.0" stroke="#111" stroke-width="4" fill="none" stroke-linecap="round"/><circle cx="15" cy="7" r="0.8" fill="#fff"/><circle cx="19" cy="0.5" r="0.8" fill="#fff"/><circle cx="23.5" cy="-6" r="0.8" fill="#fff"/><path d="M30.5,-7.0 C31.6,-5.9 34.8,-2.6 37.0,-0.5 C39.2,1.6 42.8,4.5 44.0,5.5" stroke="#111" stroke-width="4" fill="none" stroke-linecap="round"/><circle cx="30.5" cy="-7" r="0.8" fill="#fff"/><circle cx="37" cy="-0.5" r="0.8" fill="#fff"/><circle cx="44" cy="5.5" r="0.8" fill="#fff"/></g>
<g transform="translate(653.7,452.8)"><path d="M-0.5,-5.7 C0.4,-5.1 3.2,-3.6 5.0,-2.0 C6.8,-0.4 8.5,2.5 10.0,4.0 C11.5,5.5 12.6,6.8 14.0,7.3 C15.4,7.8 17.0,8.6 18.6,7.3 C20.2,6.0 21.6,2.4 23.4,-0.2 C25.2,-2.8 27.6,-7.2 29.6,-8.4 C31.7,-9.6 33.4,-8.9 35.7,-7.1 C38.0,-5.3 41.0,0.2 43.3,2.5 C45.6,4.8 48.4,5.9 49.4,6.6" stroke="#f08418" stroke-width="3.2" fill="none" stroke-linecap="round"/><path d="M7.7,10.7 C8.2,9.8 9.8,7.2 11.0,5.0 C12.2,2.8 13.6,-0.2 15.2,-2.3 C16.8,-4.4 19.0,-6.8 20.7,-7.8 C22.4,-8.8 23.6,-9.4 25.5,-8.1 C27.4,-6.8 30.0,-2.6 32.3,-0.2 C34.6,2.2 37.5,5.5 39.1,6.6 C40.7,7.7 40.4,8.0 41.9,6.5 C43.4,5.0 46.0,0.6 48.0,-2.3 C50.0,-5.2 53.2,-9.7 54.2,-11.2" stroke="#30b028" stroke-width="3.2" fill="none" stroke-linecap="round"/><path d="M15.0,7.0 C15.7,5.9 17.6,2.7 19.0,0.5 C20.4,-1.7 22.8,-4.9 23.5,-6.0" stroke="#111" stroke-width="4" fill="none" stroke-linecap="round"/><circle cx="15" cy="7" r="0.8" fill="#fff"/><circle cx="19" cy="0.5" r="0.8" fill="#fff"/><circle cx="23.5" cy="-6" r="0.8" fill="#fff"/><path d="M30.5,-7.0 C31.6,-5.9 34.8,-2.6 37.0,-0.5 C39.2,1.6 42.8,4.5 44.0,5.5" stroke="#111" stroke-width="4" fill="none" stroke-linecap="round"/><circle cx="30.5" cy="-7" r="0.8" fill="#fff"/><circle cx="37" cy="-0.5" r="0.8" fill="#fff"/><circle cx="44" cy="5.5" r="0.8" fill="#fff"/></g>
<g transform="translate(819.9,333) rotate(0) scale(1.0,1.0)"><path d="M10.5,-46.4 C11.1,-45.5 12.5,-42.9 14.0,-41.0 C15.5,-39.1 17.9,-36.5 19.3,-35.3 C20.7,-34.1 22.1,-34.0 22.6,-33.7" stroke="#3cb82c" stroke-width="3.60" fill="none" stroke-linecap="round"/><path d="M23.7,-34.2 C22.2,-34.1 17.9,-34.0 15.0,-33.8 C12.1,-33.6 8.1,-33.5 6.0,-33.2 C3.9,-32.9 3.0,-32.7 2.2,-32.0 C1.4,-31.3 0.7,-30.0 1.0,-29.0 C1.3,-28.0 2.8,-27.1 4.0,-26.0 C5.2,-24.9 7.0,-24.1 8.2,-22.5 C9.4,-20.9 11.0,-18.6 11.4,-16.5 C11.8,-14.4 10.7,-11.0 10.5,-9.9" stroke="#f08a1a" stroke-width="3.06" fill="none" stroke-linecap="round"/><path d="M22.6,-33.7 C22.1,-33.1 21.1,-30.7 19.3,-29.8 C17.5,-28.9 14.4,-28.8 12.0,-28.5 C9.6,-28.2 6.9,-28.5 5.0,-28.0 C3.1,-27.5 1.1,-26.8 0.5,-25.4 C-0.1,-24.0 0.7,-21.8 1.6,-19.9 C2.5,-18.0 4.8,-15.8 6.0,-14.3 C7.2,-12.8 8.5,-11.6 9.0,-11.0" stroke="#2eae26" stroke-width="3.06" fill="none" stroke-linecap="round"/><path d="M4.0,-30.5 C5.3,-30.6 9.3,-30.8 12.0,-31.0 C14.7,-31.2 18.7,-31.8 20.0,-32.0" stroke="#111" stroke-width="3.42" fill="none" stroke-linecap="round"/><path d="M2.8,-27.0 C3.2,-26.0 4.0,-23.0 5.0,-21.0 C6.0,-19.0 8.3,-16.0 9.0,-15.0" stroke="#111" stroke-width="3.42" fill="none" stroke-linecap="round"/><circle cx="5" cy="-30.0" r="0.80" fill="#fff"/><circle cx="13" cy="-30.5" r="0.80" fill="#fff"/><circle cx="3.8" cy="-26.5" r="0.80" fill="#fff"/><circle cx="6" cy="-20.5" r="0.80" fill="#fff"/></g>
<ellipse cx="819.9" cy="333" rx="13.3" ry="13.5" fill="url(#ball)"/>
<g transform="translate(792.4,422.9) rotate(0) scale(1.0,1.0)"><path d="M10.5,-46.4 C11.1,-45.5 12.5,-42.9 14.0,-41.0 C15.5,-39.1 17.9,-36.5 19.3,-35.3 C20.7,-34.1 22.1,-34.0 22.6,-33.7" stroke="#3cb82c" stroke-width="3.60" fill="none" stroke-linecap="round"/><path d="M23.7,-34.2 C22.2,-34.1 17.9,-34.0 15.0,-33.8 C12.1,-33.6 8.1,-33.5 6.0,-33.2 C3.9,-32.9 3.0,-32.7 2.2,-32.0 C1.4,-31.3 0.7,-30.0 1.0,-29.0 C1.3,-28.0 2.8,-27.1 4.0,-26.0 C5.2,-24.9 7.0,-24.1 8.2,-22.5 C9.4,-20.9 11.0,-18.6 11.4,-16.5 C11.8,-14.4 10.7,-11.0 10.5,-9.9" stroke="#f08a1a" stroke-width="3.06" fill="none" stroke-linecap="round"/><path d="M22.6,-33.7 C22.1,-33.1 21.1,-30.7 19.3,-29.8 C17.5,-28.9 14.4,-28.8 12.0,-28.5 C9.6,-28.2 6.9,-28.5 5.0,-28.0 C3.1,-27.5 1.1,-26.8 0.5,-25.4 C-0.1,-24.0 0.7,-21.8 1.6,-19.9 C2.5,-18.0 4.8,-15.8 6.0,-14.3 C7.2,-12.8 8.5,-11.6 9.0,-11.0" stroke="#2eae26" stroke-width="3.06" fill="none" stroke-linecap="round"/><path d="M4.0,-30.5 C5.3,-30.6 9.3,-30.8 12.0,-31.0 C14.7,-31.2 18.7,-31.8 20.0,-32.0" stroke="#111" stroke-width="3.42" fill="none" stroke-linecap="round"/><path d="M2.8,-27.0 C3.2,-26.0 4.0,-23.0 5.0,-21.0 C6.0,-19.0 8.3,-16.0 9.0,-15.0" stroke="#111" stroke-width="3.42" fill="none" stroke-linecap="round"/><circle cx="5" cy="-30.0" r="0.80" fill="#fff"/><circle cx="13" cy="-30.5" r="0.80" fill="#fff"/><circle cx="3.8" cy="-26.5" r="0.80" fill="#fff"/><circle cx="6" cy="-20.5" r="0.80" fill="#fff"/></g>
<ellipse cx="791.4" cy="422.9" rx="13.7" ry="13.7" fill="url(#ball)"/>
<ellipse cx="733.75" cy="444.4" rx="12.4" ry="12.9" fill="url(#ball)"/>
<rect x="0" y="491" width="1024" height="142" fill="#fff" fill-opacity="0.955"/>
<rect x="0" y="0" width="38.7" height="560" fill="#228b8b"/><rect x="36.9" y="0" width="1.6" height="560" fill="#1c7e7c"/>
<line x1="0" y1="501.7" x2="1024" y2="501.7" stroke="#4a9e9a" stroke-width="1.6" stroke-dasharray="5.5 3" stroke-dashoffset="7.3"/>
<line x1="0" y1="604.5" x2="1024" y2="604.5" stroke="#4a9e9a" stroke-width="1.6" stroke-dasharray="5.5 3" stroke-dashoffset="4.4"/>
<ellipse cx="0" cy="547.4" rx="86.1" ry="79.3" fill="#228b8b"/>
<ellipse cx="1024" cy="78" rx="89.3" ry="79.3" fill="#228b8b"/>
<line x1="0" y1="502.3" x2="80" y2="502.3" stroke="#ffffff" stroke-opacity="0.07" stroke-width="1.6"/><line x1="0" y1="604.5" x2="80" y2="604.5" stroke="#ffffff" stroke-opacity="0.07" stroke-width="1.6"/>
<circle cx="12.9" cy="322.2" r="1.7" fill="#111"/><circle cx="32" cy="322.2" r="1.7" fill="#111"/><circle cx="51.3" cy="322.2" r="1.7" fill="#111"/><circle cx="12.9" cy="338.0" r="1.7" fill="#111"/><circle cx="32" cy="338.0" r="1.7" fill="#111"/><circle cx="51.3" cy="338.0" r="1.7" fill="#111"/><circle cx="12.9" cy="353.8" r="1.7" fill="#111"/><circle cx="32" cy="353.8" r="1.7" fill="#111"/><circle cx="51.3" cy="353.8" r="1.7" fill="#111"/><circle cx="12.9" cy="369.6" r="1.7" fill="#111"/><circle cx="32" cy="369.6" r="1.7" fill="#111"/><circle cx="51.3" cy="369.6" r="1.7" fill="#111"/><circle cx="12.9" cy="385.4" r="1.7" fill="#111"/><circle cx="32" cy="385.4" r="1.7" fill="#111"/><circle cx="51.3" cy="385.4" r="1.7" fill="#111"/><circle cx="12.9" cy="401.2" r="1.7" fill="#111"/><circle cx="32" cy="401.2" r="1.7" fill="#111"/><circle cx="51.3" cy="401.2" r="1.7" fill="#111"/><circle cx="12.9" cy="417.0" r="1.7" fill="#111"/><circle cx="32" cy="417.0" r="1.7" fill="#111"/><circle cx="51.3" cy="417.0" r="1.7" fill="#111"/>
<text class="sans" x="103.4" y="556.2" font-size="26.85" font-weight="bold" fill="#2f8a86" style="font-family:'Liberation Sans',sans-serif;stroke:none">Magnetoporation: Magnetic Permeabilization of Cell Membranes</text>
<path d="M918.1,567.6 C919.3,569.1 922.0,574.3 925.2,576.7 C928.4,579.1 933.7,581.1 937.4,581.8 C941.1,582.5 944.1,582.1 947.5,580.8 C950.9,579.4 954.5,577.4 957.7,573.7 C960.9,570.0 964.8,562.0 966.8,558.4 C968.8,554.8 969.0,553.1 969.5,552.0 L969.5,552.0 C968.4,553.4 965.6,557.4 962.8,560.5 C960.0,563.6 956.0,568.2 952.6,570.6 C949.2,573.0 945.9,574.4 942.5,574.7 C939.1,575.1 935.4,575.1 932.3,572.7 C929.2,570.3 925.1,562.5 923.7,560.5 Z" fill="url(#logoL)"/><path d="M968.5,553.0 C969.6,551.5 972.6,546.7 975.0,544.2 C977.4,541.7 980.4,539.3 983.1,538.1 C985.8,536.9 988.3,536.6 991.2,537.1 C994.1,537.6 997.4,538.8 1000.4,541.2 C1003.4,543.6 1008.0,549.6 1009.5,551.3 L1003.9,559.5 C1003.1,557.8 1001.4,552.0 999.3,549.3 C997.2,546.6 993.9,544.1 991.2,543.2 C988.5,542.4 985.8,543.2 983.1,544.2 C980.4,545.2 977.4,547.8 975.0,549.3 C972.6,550.8 969.6,552.4 968.5,553.0 Z" fill="url(#logoR)"/><circle cx="924.2" cy="568" r="1.25" fill="#fff"/><circle cx="926.7" cy="571.1" r="1.25" fill="#fff"/><circle cx="998.3" cy="545.7" r="1.25" fill="#fff"/><circle cx="1001.2" cy="548.8" r="1.25" fill="#fff"/><circle cx="1003.9" cy="551.8" r="1.25" fill="#fff"/><text x="929.6" y="560" font-size="6.6" font-weight="bold" fill="#3a3a3a" letter-spacing="4.3" style="font-family:'Liberation Sans',sans-serif;stroke:none">Pars</text><text x="969.8" y="560" font-size="6.6" font-weight="bold" fill="#3a3a3a" letter-spacing="2.2" style="font-family:'Liberation Sans',sans-serif;stroke:none">Tarava</text>
</svg></body></html>
